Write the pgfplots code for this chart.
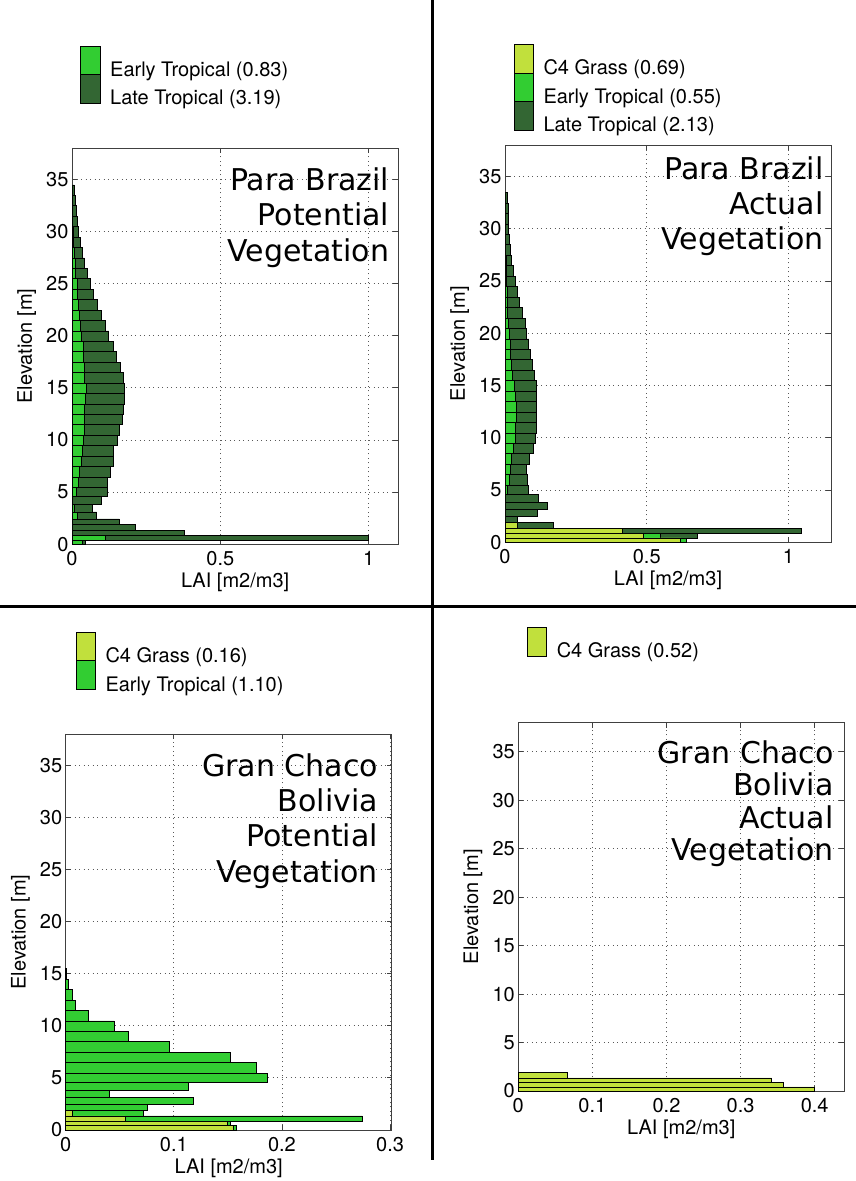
\documentclass[border=0pt]{standalone}
\usepackage{pgfplots}
\pgfplotsset{compat=1.18}
\usepackage{pgfplotstable}
\usepackage{fontspec}
\setmainfont{TeX Gyre Heros}
\newfontfamily\dejavu{DejaVu Sans}
\newcommand\ttl{\fontsize{30bp}{34bp}\dejavu}
\newcommand\lbl{\fontsize{20bp}{23bp}\selectfont}
\definecolor{late}{RGB}{51,102,51}
\definecolor{early}{RGB}{50,205,50}
\definecolor{cfour}{RGB}{193,224,60}

% Para Brazil potential: lo = lower bin edge, T = total (late+early), E = early
\pgfplotstableread{
lo T E
0     0.046 0.036
0.42  1.000 0.113
0.85  0.378 0
1.35  0.215 0
1.88  0.160 0
2.43  0.083 0.018
3.10  0.068 0.008
3.80  0.099 0.003
4.55  0.121 0.014
5.46  0.121 0.022
6.46  0.131 0.026
7.46  0.138 0.031
8.46  0.138 0.034
9.46  0.154 0.037
10.46 0.160 0.042
11.46 0.169 0.043
12.46 0.172 0.043
13.46 0.178 0.045
14.46 0.178 0.047
15.46 0.172 0.043
16.46 0.163 0.043
17.46 0.148 0.039
18.46 0.140 0.037
19.46 0.124 0.031
20.46 0.111 0.028
21.46 0.099 0.026
22.46 0.086 0.022
23.46 0.073 0.019
24.46 0.062 0.017
25.46 0.051 0.013
26.46 0.042 0.011
27.46 0.036 0.009
28.46 0.028 0.006
29.46 0.022 0.004
30.46 0.019 0.003
31.46 0.016 0.002
32.46 0.012 0.001
33.46 0.008 0
34.46 0     0
}\paraPot

% Para Brazil actual: T = total, E = C4+early, C = C4
\pgfplotstableread{
lo T E C
0     0.641 0.641 0.620
0.42  0.679 0.547 0.488
0.85  1.047 0.415 0.415
1.35  0.171 0.044 0.044
1.88  0.044 0     0
2.43  0.114 0     0
3.10  0.149 0     0
3.80  0.118 0     0
4.55  0.082 0.009 0
5.46  0.078 0.014 0
6.46  0.076 0.018 0
7.46  0.086 0.022 0
8.46  0.100 0.030 0
9.46  0.106 0.035 0
10.46 0.112 0.038 0
11.46 0.112 0.040 0
12.46 0.112 0.040 0
13.46 0.112 0.036 0
14.46 0.109 0.032 0
15.46 0.102 0.026 0
16.46 0.096 0.022 0
17.46 0.091 0.020 0
18.46 0.084 0.018 0
19.46 0.076 0.014 0
20.46 0.071 0.012 0
21.46 0.062 0.009 0
22.46 0.051 0.008 0
23.46 0.044 0.007 0
24.46 0.035 0.006 0
25.46 0.031 0.005 0
26.46 0.024 0.004 0
27.46 0.018 0.003 0
28.46 0.014 0.002 0
29.46 0.012 0.001 0
30.46 0.012 0.001 0
31.46 0.013 0.001 0
32.46 0.008 0     0
33.46 0     0     0
}\paraAct

% Gran Chaco potential: T = total (C4+early), C = C4
\pgfplotstableread{
lo T C
0     0.158  0.155
0.42  0.152  0.1496
0.85  0.2744 0.0549
1.35  0.0718 0.0062
1.88  0.0755 0
2.43  0.1178 0
3.10  0.0404 0
3.80  0.1135 0
4.55  0.1866 0
5.46  0.176  0
6.46  0.1526 0
7.46  0.0962 0
8.46  0.058  0
9.46  0.0447 0
10.46 0.0207 0
11.46 0.009  0
12.46 0.006  0
13.46 0.0025 0
14.46 0.0008 0
15.46 0      0
}\chacoPot

% Gran Chaco actual: C = C4
\pgfplotstableread{
lo C
0     0.400
0.42  0.358
0.85  0.342
1.35  0.0667
1.88  0
}\chacoAct

\pgfplotsset{
  panel/.style={
    scale only axis, xmin=0, ymin=0, ymax=38, ytick={0,5,...,35},
    grid=major,
    grid style={line width=0.8bp, black!65, dash pattern=on 1bp off 3.5bp},
    axis line style={black!75, line width=0.9bp},
    tick style={black!75, line width=0.8bp},
    tick align=inside, major tick length=5bp,
    tick label style={font=\lbl},
    /pgf/number format/assume math mode=true,
    label style={font=\lbl},
    xticklabel style={yshift=-4bp},
    xlabel={LAI [m2/m3]}, ylabel={Elevation [m]},
    xlabel style={at={(axis description cs:0.5,0)}, anchor=center, yshift=-38bp},
    ylabel style={at={(axis description cs:-0.139,0.5)}, anchor=center},
    legend style={draw=none, fill=none, inner sep=0pt, outer sep=0pt, row sep=0pt,
      font=\lbl, nodes={inner sep=0pt, text height=0pt, text depth=0pt},
      cells={anchor=base west}, yshift=-6.4bp,
      /tikz/every odd column/.append style={column sep=10bp}},
    reverse legend,
    clip=false,
  },
  vbar/.style={xbar interval, draw=black, line width=0.8bp, fill=#1,
    legend image code/.code={
      \draw[overlay, draw=black, line width=0.8bp, fill=#1] (0bp,1.75bp) rectangle (19.5bp,30.25bp);
      \path[draw=none, fill=none] (0bp,-4.25bp) rectangle (19.5bp,24.25bp);}},
}

\begin{document}
\begin{tikzpicture}
\path[use as bounding box] (0,0) rectangle (856bp,1181bp);

% Panel 1: Para Brazil potential
\begin{axis}[panel, at={(72bp,636.7bp)}, anchor=south west,
  width=326.3bp, height=396.3bp, xmax=1.1, xtick={0,0.5,1},
  legend style={at={(axis description cs:0.0267,1.2581)}, anchor=north west}]
\addplot[vbar=late] table[x=T, y=lo] {\paraPot};
\addlegendentry{Late Tropical (3.19)}
\addplot[vbar=early] table[x=E, y=lo] {\paraPot};
\addlegendentry{Early Tropical (0.83)}
\node[anchor=base east, inner sep=0pt, font=\ttl] at (axis cs:1.070,33.9) {Para Brazil};
\node[anchor=base east, inner sep=0pt, font=\ttl] at (axis cs:1.070,30.53) {Potential};
\node[anchor=base east, inner sep=0pt, font=\ttl] at (axis cs:1.070,27.16) {Vegetation};
\end{axis}

% Panel 2: Para Brazil actual
\begin{axis}[panel, at={(505bp,638.7bp)}, anchor=south west,
  width=326bp, height=397.1bp, xmax=1.15, xtick={0,0.5,1},
  legend style={at={(axis description cs:0.0276,1.2548)}, anchor=north west}]
\addplot[vbar=late] table[x=T, y=lo] {\paraAct};
\addlegendentry{Late Tropical (2.13)}
\addplot[vbar=early] table[x=E, y=lo] {\paraAct};
\addlegendentry{Early Tropical (0.55)}
\addplot[vbar=cfour] table[x=C, y=lo] {\paraAct};
\addlegendentry{C4 Grass (0.69)}
\node[anchor=base east, inner sep=0pt, font=\ttl] at (axis cs:1.124,34.7) {Para Brazil\hspace{9.5bp}};
\node[anchor=base east, inner sep=0pt, font=\ttl] at (axis cs:1.124,31.36) {Actual};
\node[anchor=base east, inner sep=0pt, font=\ttl] at (axis cs:1.124,28.0) {Vegetation};
\end{axis}

% Panel 3: Gran Chaco potential
\begin{axis}[panel, at={(65.7bp,51bp)}, anchor=south west,
  width=326bp, height=396bp, xmax=0.3015, xtick={0,0.1,0.2,0.3},
  legend style={at={(axis description cs:0.0316,1.2576)}, anchor=north west}]
\addplot[vbar=early] table[x=T, y=lo] {\chacoPot};
\addlegendentry{Early Tropical (1.10)}
\addplot[vbar=cfour] table[x=C, y=lo] {\chacoPot};
\addlegendentry{C4 Grass (0.16)}
\node[anchor=base east, inner sep=0pt, font=\ttl] at (axis cs:0.289,33.9) {Gran Chaco};
\node[anchor=base east, inner sep=0pt, font=\ttl] at (axis cs:0.289,30.53) {Bolivia};
\node[anchor=base east, inner sep=0pt, font=\ttl] at (axis cs:0.289,27.16) {Potential};
\node[anchor=base east, inner sep=0pt, font=\ttl] at (axis cs:0.289,23.79) {Vegetation};
\end{axis}

% Panel 4: Gran Chaco actual
\begin{axis}[panel, at={(518.3bp,90bp)}, anchor=south west,
  width=326bp, height=368.3bp, xmax=0.44, xtick={0,0.1,0.2,0.3,0.4},
  legend style={at={(axis description cs:0.0276,1.259)}, anchor=north west}]
\addplot[vbar=cfour] table[x=C, y=lo] {\chacoAct};
\addlegendentry{C4 Grass (0.52)}
\node[anchor=base east, inner sep=0pt, font=\ttl] at (axis cs:0.4256,33.8) {Gran Chaco};
\node[anchor=base east, inner sep=0pt, font=\ttl] at (axis cs:0.4256,30.45) {Bolivia};
\node[anchor=base east, inner sep=0pt, font=\ttl] at (axis cs:0.4256,27.1) {Actual};
\node[anchor=base east, inner sep=0pt, font=\ttl] at (axis cs:0.4256,23.75) {Vegetation};
\end{axis}

% separators
\draw[line width=3.2bp] (432.3bp,1181bp) -- (432.3bp,21bp);
\draw[line width=3.2bp] (0bp,574.3bp) -- (856bp,574.3bp);
\end{tikzpicture}
\end{document}
